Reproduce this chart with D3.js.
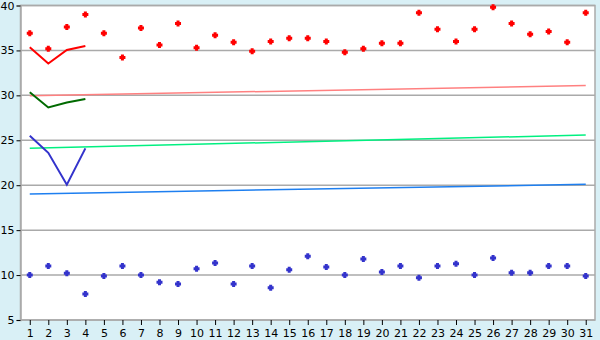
<!DOCTYPE html>
<html>
<head>
<meta charset="utf-8">
<script src="https://cdn.jsdelivr.net/npm/d3@7"></script>
<style>
  body { margin: 0; background: #d9f0f6; }
  svg { display: block; font-family: 'DejaVu Sans', sans-serif; }
</style>
</head>
<body>
<div id="chart"></div>
<script>
const days = d3.range(1, 32);
const yTicks = [5, 10, 15, 20, 25, 30, 35, 40];

const highPoints = [36.9, 35.2, 37.6, 39.0, 36.9, 34.2, 37.5, 35.6, 38.0, 35.3,
  36.7, 35.9, 34.9, 36.0, 36.35, 36.35, 36.0, 34.8, 35.2, 35.8,
  35.8, 39.2, 37.35, 36.0, 37.35, 39.8, 38.0, 36.8, 37.1, 35.9, 39.2];
const lowPoints = [10.0, 11.0, 10.2, 7.9, 9.9, 11.0, 10.0, 9.2, 9.0, 10.7,
  11.35, 9.0, 11.0, 8.6, 10.6, 12.1, 10.9, 10.0, 11.8, 10.35,
  11.0, 9.7, 11.0, 11.25, 10.0, 11.9, 10.25, 10.25, 11.0, 11.0, 9.9];

const redShort = [35.35, 33.55, 35.05, 35.5];
const greenShort = [30.35, 28.65, 29.2, 29.6];
const blueShort = [25.5, 23.6, 20.05, 24.1];

// trend lines, value at day 1 and day 31
const pinkTrend = [29.95, 31.1];
const greenTrend = [24.12, 25.58];
const blueTrend = [19.02, 20.1];

const WIDTH = 600;
const HEIGHT = 340;
const MARGIN = { TOP: 5.5, RIGHT: 5, BOTTOM: 20, LEFT: 20.5 };

const svg = d3.select('#chart')
  .append('svg')
  .attr('width', WIDTH)
  .attr('height', HEIGHT);

const plotWidth = WIDTH - MARGIN.LEFT - MARGIN.RIGHT;
const plotHeight = HEIGHT - MARGIN.TOP - MARGIN.BOTTOM;

const x = d3.scalePoint(days, [0, plotWidth]).padding(0.5);
const y = d3.scaleLinear([5, 40], [plotHeight, 0]);

const g = svg.append('g')
  .attr('transform', `translate(${MARGIN.LEFT}, ${MARGIN.TOP})`);

g.append('rect')
  .attr('width', plotWidth)
  .attr('height', plotHeight)
  .attr('fill', '#fff')
  .attr('stroke', '#aaa')
  .attr('stroke-width', 1.5);

// grid
g.append('g')
  .selectAll('line')
  .data(yTicks)
  .join('line')
  .attr('x1', 0)
  .attr('x2', plotWidth)
  .attr('y1', (d) => y(d))
  .attr('y2', (d) => y(d))
  .attr('stroke', '#aaa')
  .attr('stroke-width', 1.5);

const yAxis = g.append('g')
  .call(d3.axisLeft(y).tickValues(yTicks).tickSize(4).tickPadding(2));
const xAxis = g.append('g')
  .attr('transform', `translate(0, ${plotHeight})`)
  .call(d3.axisBottom(x).tickSize(5).tickPadding(4));

[xAxis, yAxis].forEach((a) => {
  a.select('.domain').attr('stroke', '#aaa').attr('stroke-width', 1.5);
  a.selectAll('.tick line').attr('stroke', '#000');
  a.selectAll('text').attr('fill', '#000').style('font-size', '11px')
    .style('font-family', "'DejaVu Sans', sans-serif");
});
xAxis.select('.domain').remove();

const line = d3.line()
  .x((d, i) => x(days[i]))
  .y((d) => y(d));

const trend = (vals) => [[x(days[0]), y(vals[0])], [x(days[days.length - 1]), y(vals[1])]];

[[pinkTrend, '#ff8080'], [greenTrend, '#00f080'], [blueTrend, '#1e7ff0']].forEach(([vals, color]) => {
  g.append('path')
    .attr('d', d3.line()(trend(vals)))
    .attr('fill', 'none')
    .attr('stroke', color)
    .attr('stroke-width', 1.5);
});

[[redShort, '#ff0000'], [greenShort, '#006a00'], [blueShort, '#3333cc']].forEach(([vals, color]) => {
  g.append('path')
    .attr('d', line(vals))
    .attr('fill', 'none')
    .attr('stroke', color)
    .attr('stroke-width', 2);
});

const marker = 'M-1.5,-3h3v1.5h1.5v3h-1.5v1.5h-3v-1.5h-1.5v-3h1.5z';

[[highPoints, '#ff0000'], [lowPoints, '#3333cc']].forEach(([vals, color]) => {
  g.append('g')
    .selectAll('path')
    .data(vals)
    .join('path')
    .attr('transform', (d, i) => `translate(${x(days[i])}, ${y(d)})`)
    .attr('d', marker)
    .attr('fill', color);
});
</script>
</body>
</html>
